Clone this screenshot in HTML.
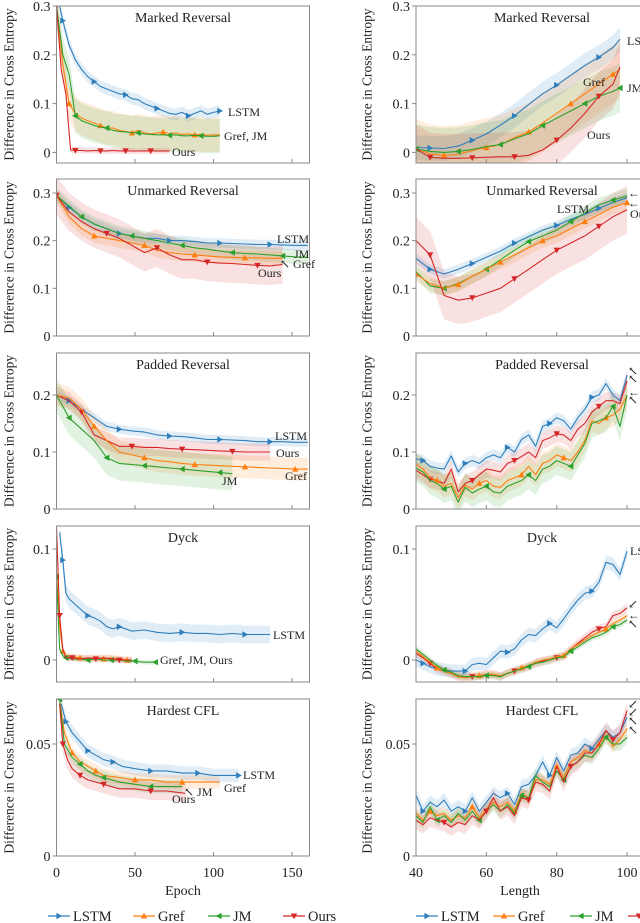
<!DOCTYPE html>
<html><head><meta charset="utf-8">
<style>
html,body{margin:0;padding:0;background:#fff;}
svg{display:block;font-family:"Liberation Serif","DejaVu Serif",serif;}
svg text{font-family:"Liberation Serif","DejaVu Serif",serif;}
</style></head>
<body>
<svg id="fig" width="640" height="923" viewBox="0 0 640 923" font-family="Liberation Serif, DejaVu Serif, serif" xmlns="http://www.w3.org/2000/svg"></svg>
<script>
// ---------- DATA ----------
const l1LstmX=[2,4,8,12,16,20,24,28,32,36,40,44,48,52,56,60,64,68,72,76,80,84,88,92,96,100,104];
const l1LstmY=[0.30,0.27,0.22,0.19,0.17,0.155,0.145,0.135,0.13,0.125,0.12,0.118,0.11,0.108,0.1,0.095,0.09,0.085,0.08,0.078,0.082,0.075,0.08,0.085,0.078,0.082,0.085];
const l1GrefX=[0,4,8,12,16,20,24,28,32,36,40,44,48,52,56,60,64,68,72,76,80,84,88,92,96,100,104];
const l1GrefY=[0.3,0.18,0.1,0.08,0.07,0.065,0.06,0.055,0.05,0.05,0.045,0.043,0.04,0.045,0.04,0.038,0.04,0.042,0.038,0.04,0.037,0.038,0.036,0.037,0.035,0.036,0.036];
const l1JmY=[0.3,0.2,0.16,0.075,0.065,0.06,0.055,0.052,0.05,0.045,0.043,0.042,0.04,0.04,0.038,0.037,0.036,0.036,0.035,0.036,0.034,0.034,0.035,0.034,0.033,0.033,0.034];
const l1OursX=[0,3,6,9,12,16,20,24,28,32,36,40,44,48,52,56,60,64,68,72];
const l1OursY=[0.3,0.17,0.12,0.005,0.004,0.004,0.003,0.004,0.003,0.003,0.004,0.003,0.003,0.003,0.003,0.003,0.003,0.003,0.003,0.003];

const l2X=[0,8,16,24,32,40,48,56,64,72,80,88,96,104,112,120,128,136,144,152,160];
const l2LstmY=[0.295,0.27,0.25,0.235,0.225,0.215,0.21,0.205,0.205,0.2,0.2,0.198,0.195,0.195,0.194,0.193,0.192,0.192,0.191,0.19,0.19];
const l2JmY=[0.295,0.272,0.25,0.235,0.225,0.215,0.21,0.205,0.2,0.195,0.19,0.185,0.182,0.178,0.175,0.173,0.172,0.17,0.168,0.166,0.165];
const l2GrefY=[0.295,0.25,0.225,0.21,0.205,0.2,0.195,0.19,0.18,0.175,0.172,0.17,0.168,0.166,0.165,0.164,0.164,0.163,0.163];
const l2OursY=[0.295,0.26,0.24,0.225,0.215,0.205,0.19,0.175,0.185,0.17,0.16,0.16,0.155,0.153,0.152,0.15,0.148,0.147,0.15];

const l3X=[0,8,16,24,32,40,48,56,64,72,80,88,96,104,112,120,128,136,144,152,160];
const l3LstmY=[0.2,0.19,0.175,0.16,0.145,0.14,0.137,0.135,0.13,0.128,0.127,0.125,0.122,0.122,0.121,0.12,0.118,0.118,0.118,0.117,0.117];
const l3OursY=[0.2,0.19,0.17,0.13,0.12,0.11,0.11,0.108,0.108,0.106,0.105,0.104,0.103,0.102,0.101,0.1,0.1,0.1];
const l3GrefY=[0.2,0.195,0.175,0.145,0.12,0.1,0.095,0.09,0.085,0.083,0.08,0.078,0.077,0.076,0.075,0.074,0.073,0.072,0.071,0.07,0.07];
const l3JmY=[0.2,0.16,0.14,0.12,0.09,0.08,0.078,0.076,0.074,0.072,0.07,0.068,0.066,0.064,0.062];

const l4LstmX=[2,4,6,8,12,16,20,24,28,32,36,40,48,56,64,72,80,88,96,104,112,120,128,136];
const l4LstmY=[0.115,0.09,0.06,0.055,0.05,0.045,0.04,0.038,0.035,0.03,0.028,0.03,0.026,0.027,0.025,0.024,0.025,0.024,0.024,0.023,0.024,0.023,0.023,0.023];
const l4ShortX=[0,2,4,6,10,15,20,25,30,35,40,45,48];
const l4GrefY=[0.08,0.03,0.008,0.004,0.003,0.002,0.001,0.002,0.001,0.002,0.001,0.0,0.0];
const l4OursY=[0.12,0.04,0.01,0.002,0.002,0.001,0.002,0.001,0.002,0.001,0.0,0.0,0.0];
const l4JmX=[0,2,4,6,10,15,20,25,30,35,40,45,50,55,60,63];
const l4JmY=[0.075,0.01,0.004,0.002,0.001,0.001,0.0,0.001,0.0,0.0,0.0,-0.001,-0.001,-0.002,-0.002,-0.002];

const l5LstmX=[3,6,10,15,20,25,30,36,42,50,60,70,80,90,100,108,116];
const l5LstmY=[0.068,0.06,0.055,0.051,0.047,0.045,0.043,0.042,0.04,0.039,0.038,0.038,0.037,0.037,0.036,0.036,0.036];
const l5GrefX=[2,5,10,15,20,25,30,40,50,60,70,80,90,104];
const l5GrefY=[0.07,0.055,0.046,0.042,0.04,0.038,0.036,0.035,0.034,0.034,0.033,0.033,0.033,0.033];
const l5JmX=[2,5,10,15,20,25,30,40,50,60,70,80];
const l5JmY=[0.07,0.05,0.044,0.041,0.038,0.036,0.035,0.033,0.032,0.031,0.031,0.031];
const l5OursX=[2,4,7,10,15,20,25,30,40,50,60,70,82];
const l5OursY=[0.068,0.05,0.043,0.039,0.036,0.034,0.033,0.032,0.03,0.03,0.029,0.029,0.028];

const r1X=[40,44,48,52,56,60,64,68,72,76,80,84,88,92,96,98];
const r1LstmY=[0.01,0.009,0.008,0.013,0.025,0.038,0.056,0.075,0.098,0.12,0.138,0.158,0.178,0.195,0.215,0.232];
const r1GrefY=[0.008,-0.003,-0.006,-0.004,0.004,0.01,0.016,0.03,0.042,0.06,0.08,0.1,0.12,0.14,0.16,0.17];
const r1JmY=[0.007,0.002,0.0,0.002,0.006,0.012,0.016,0.028,0.038,0.055,0.07,0.085,0.1,0.115,0.125,0.132];
const r1OursY=[0.007,-0.01,-0.012,-0.012,-0.011,-0.01,-0.009,-0.009,-0.006,0.005,0.025,0.05,0.08,0.115,0.14,0.175];

const r2X=[40,44,48,52,56,60,64,68,72,76,80,84,88,92,96,100];
const r2LstmY=[0.163,0.14,0.13,0.14,0.152,0.165,0.178,0.195,0.208,0.222,0.232,0.245,0.255,0.268,0.28,0.29];
const r2JmY=[0.135,0.105,0.1,0.11,0.125,0.14,0.16,0.18,0.198,0.21,0.222,0.24,0.258,0.275,0.285,0.294];
const r2GrefY=[0.13,0.11,0.1,0.108,0.125,0.14,0.155,0.17,0.185,0.2,0.21,0.225,0.24,0.255,0.27,0.28];
const r2OursY=[0.2,0.17,0.085,0.075,0.08,0.09,0.1,0.12,0.14,0.16,0.18,0.195,0.21,0.23,0.25,0.265];

const rLenX=[40,42,44,46,48,50,52,54,56,58,60,62,64,66,68,70,72,74,76,78,80,82,84,86,88,90,92,94,96,98,100];
const r3LstmY=[0.088,0.085,0.075,0.072,0.07,0.093,0.065,0.08,0.085,0.08,0.09,0.095,0.09,0.108,0.1,0.122,0.13,0.11,0.145,0.15,0.16,0.155,0.14,0.16,0.175,0.196,0.2,0.22,0.2,0.19,0.235];
const r3OursY=[0.068,0.06,0.052,0.05,0.045,0.07,0.03,0.045,0.05,0.06,0.07,0.068,0.065,0.08,0.085,0.092,0.1,0.09,0.12,0.125,0.132,0.13,0.12,0.14,0.15,0.17,0.18,0.19,0.19,0.185,0.225];
const r3GrefY=[0.078,0.07,0.055,0.05,0.04,0.045,0.02,0.042,0.035,0.045,0.05,0.04,0.038,0.05,0.055,0.06,0.075,0.06,0.08,0.085,0.095,0.09,0.085,0.1,0.12,0.155,0.15,0.16,0.165,0.175,0.2];
const r3JmY=[0.072,0.065,0.05,0.045,0.035,0.04,0.012,0.038,0.028,0.035,0.04,0.03,0.028,0.04,0.045,0.05,0.06,0.05,0.07,0.075,0.085,0.08,0.075,0.095,0.115,0.15,0.155,0.16,0.18,0.145,0.2];

const r4LstmY=[0,-0.003,-0.006,-0.008,-0.009,-0.01,-0.01,-0.01,-0.004,-0.003,-0.004,0.002,0.008,0.007,0.01,0.018,0.023,0.022,0.028,0.033,0.029,0.037,0.046,0.054,0.06,0.062,0.07,0.088,0.086,0.077,0.098];
const r4OursY=[0.006,0.002,-0.003,-0.008,-0.01,-0.012,-0.015,-0.015,-0.015,-0.014,-0.013,-0.013,-0.015,-0.012,-0.01,-0.008,-0.006,-0.003,-0.001,0.0,0.002,0.004,0.01,0.015,0.02,0.025,0.028,0.03,0.04,0.042,0.047];
const r4GrefY=[0.008,0.003,-0.002,-0.007,-0.01,-0.012,-0.015,-0.016,-0.015,-0.014,-0.013,-0.013,-0.014,-0.012,-0.01,-0.007,-0.005,-0.002,0.0,0.001,0.003,0.004,0.01,0.014,0.018,0.022,0.025,0.028,0.033,0.036,0.04];
const r4JmY=[0.01,0.005,0.0,-0.005,-0.009,-0.011,-0.014,-0.015,-0.015,-0.015,-0.014,-0.014,-0.015,-0.012,-0.01,-0.008,-0.006,-0.003,-0.002,0.0,0.002,0.003,0.008,0.012,0.016,0.02,0.022,0.025,0.03,0.032,0.036];

const r5LstmY=[0.027,0.02,0.024,0.022,0.025,0.02,0.022,0.02,0.026,0.02,0.024,0.028,0.026,0.028,0.023,0.031,0.032,0.036,0.042,0.036,0.044,0.038,0.045,0.046,0.05,0.048,0.052,0.056,0.053,0.055,0.062];
const r5GrefY=[0.019,0.016,0.02,0.018,0.019,0.016,0.018,0.017,0.022,0.017,0.021,0.024,0.022,0.024,0.02,0.028,0.026,0.034,0.034,0.032,0.04,0.035,0.042,0.044,0.047,0.046,0.05,0.054,0.049,0.052,0.057];
const r5JmY=[0.018,0.015,0.022,0.016,0.018,0.015,0.019,0.016,0.02,0.016,0.02,0.023,0.02,0.023,0.019,0.027,0.026,0.036,0.033,0.031,0.038,0.034,0.04,0.042,0.045,0.044,0.048,0.053,0.05,0.05,0.053];
const r5OursY=[0.016,0.014,0.017,0.016,0.015,0.013,0.015,0.014,0.018,0.016,0.02,0.026,0.02,0.022,0.018,0.026,0.025,0.033,0.032,0.029,0.04,0.033,0.04,0.042,0.046,0.046,0.05,0.056,0.052,0.055,0.065];

const yTicksRow=[[0,0.1,0.2,0.3],[0,0.1,0.2,0.3],[0,0.1,0.2],[0,0.1],[0,0.05]];
const yTickLabelsRow=[["0","0.1","0.2","0.3"],["0","0.1","0.2","0.3"],["0","0.1","0.2"],["0","0.1"],["0","0.05"]];
const xTicksLeft=[0,50,100,150];
const xTicksRight=[40,60,80,100];
const titles=["Marked Reversal","Unmarked Reversal","Padded Reversal","Dyck","Hardest CFL"];
const seriesNames=["LSTM","Gref","JM","Ours"];

// ---------- LAYOUT ----------
const FONT='Liberation Serif, DejaVu Serif, serif';
const COLORS={LSTM:"#2e7ebc",Gref:"#ff7f0e",JM:"#2ca02c",Ours:"#d62728"};
const rows=[{top:6,bottom:163,ymin:-0.0217,ymax:0.3},{top:179,bottom:336,ymin:0,ymax:0.3293},{top:353,bottom:509,ymin:0,ymax:0.2737},{top:526,bottom:682,ymin:-0.0198,ymax:0.1207},{top:699,bottom:856,ymin:0,ymax:0.0701}];
const cols=[{left:56.5,right:309.5,xmin:0,xmax:161.1,ylab:9},{left:416,right:645,xmin:40,xmax:105.1,ylab:367}];

const panels=[
 {r:0,c:0,series:[["LSTM",l1LstmX,l1LstmY,0.012],["Gref",l1GrefX,l1GrefY,0.035],["JM",l1GrefX,l1JmY,0.035],["Ours",l1OursX,l1OursY,0.006]],
  labels:[["LSTM",228,116],["Gref, JM",224,140],["Ours",172,156]]},
 {r:0,c:1,series:[["LSTM",r1X,r1LstmY,0.025],["Gref",r1X,r1GrefY,0.06],["JM",r1X,r1JmY,0.05],["Ours",r1X,r1OursY,0.05]],
  labels:[["LSTM",627,45],["Gref",583,86],["JM",627,92],["Ours",587,139]]},
 {r:1,c:0,series:[["LSTM",l2X,l2LstmY,0.01],["JM",l2X,l2JmY,0.015],["Gref",l2X,l2GrefY,0.015],["Ours",l2X,l2OursY,0.04]],
  labels:[["LSTM",277,243],["JM",294,258],["↖ Gref",280,268],["Ours",258,277]]},
 {r:1,c:1,series:[["LSTM",r2X,r2LstmY,0.01],["JM",r2X,r2JmY,0.015],["Gref",r2X,r2GrefY,0.015],["Ours",r2X,r2OursY,0.05]],
  labels:[["LSTM",557,213],["← JM",628,197],["← Gref",628,207],["Ours",630,218]]},
 {r:2,c:0,series:[["LSTM",l3X,l3LstmY,0.008],["Ours",l3X,l3OursY,0.015],["Gref",l3X,l3GrefY,0.02],["JM",l3X,l3JmY,0.03]],
  labels:[["LSTM",275,440],["Ours",276,457],["Gref",285,480],["JM",222,485]]},
 {r:2,c:1,series:[["LSTM",rLenX,r3LstmY,0.01],["Ours",rLenX,r3OursY,0.015],["Gref",rLenX,r3GrefY,0.02],["JM",rLenX,r3JmY,0.025]],
  labels:[["↖ LSTM",628,375],["↖ Ours",628,383],["← JM",628,396],["↖ Gref",628,404]]},
 {r:3,c:0,series:[["LSTM",l4LstmX,l4LstmY,0.008],["Gref",l4ShortX,l4GrefY,0.003],["JM",l4JmX,l4JmY,0.002],["Ours",l4ShortX,l4OursY,0.003]],
  labels:[["LSTM",273,639],["Gref, JM, Ours",160,664]]},
 {r:3,c:1,series:[["LSTM",rLenX,r4LstmY,0.006],["Ours",rLenX,r4OursY,0.004],["Gref",rLenX,r4GrefY,0.003],["JM",rLenX,r4JmY,0.003]],
  labels:[["LSTM",630,555],["↙ Ours",628,608],["← Gref",628,619],["↖ JM",628,628]]},
 {r:4,c:0,series:[["LSTM",l5LstmX,l5LstmY,0.003],["Gref",l5GrefX,l5GrefY,0.003],["JM",l5JmX,l5JmY,0.003],["Ours",l5OursX,l5OursY,0.004]],
  labels:[["LSTM",243,779],["Gref",224,792],["↖ JM",184,796],["Ours",172,803]]},
 {r:4,c:1,series:[["LSTM",rLenX,r5LstmY,0.003],["Gref",rLenX,r5GrefY,0.003],["JM",rLenX,r5JmY,0.003],["Ours",rLenX,r5OursY,0.004]],
  labels:[["↙ Ours",628,708],["↙ LSTM",628,716],["↖ Gref",628,725],["↖ JM",628,734]]}
];

// ---------- DRAW ----------
const NS="http://www.w3.org/2000/svg";
const svg=document.getElementById('fig');
function mk(tag,attrs,parent){const e=document.createElementNS(NS,tag);for(const k in attrs)e.setAttribute(k,attrs[k]);if(tag==='text')e.setAttribute('font-family',FONT);(parent||svg).appendChild(e);return e;}
function markerPts(name,x,y,s){
  if(name==="LSTM")return `${x-s*0.8},${y-s} ${x+s},${y} ${x-s*0.8},${y+s}`;
  if(name==="JM")return `${x+s*0.8},${y-s} ${x-s},${y} ${x+s*0.8},${y+s}`;
  if(name==="Gref")return `${x-s},${y+s*0.8} ${x},${y-s} ${x+s},${y+s*0.8}`;
  return `${x-s},${y-s*0.8} ${x},${y+s} ${x+s},${y-s*0.8}`;
}
const defs=mk('defs',{});
panels.forEach((p,pi)=>{
  const R=rows[p.r],C=cols[p.c];
  const sx=v=>C.left+(v-C.xmin)/(C.xmax-C.xmin)*(C.right-C.left);
  const sy=v=>R.bottom-(v-R.ymin)/(R.ymax-R.ymin)*(R.bottom-R.top);
  const g=mk('g',{});
  
  
  const cp=mk('clipPath',{id:'cp'+pi},defs);
  mk('rect',{x:C.left,y:R.top,width:C.right-C.left,height:R.bottom-R.top},cp);
  const plot=mk('g',{'clip-path':`url(#cp${pi})`},g);
  p.series.forEach(([name,xs,ys,sp])=>{
    const n=ys.length;let up=[],lo=[];
    for(let i=0;i<n;i++){up.push(`${sx(xs[i]).toFixed(1)},${sy(ys[i]+sp).toFixed(1)}`);lo.unshift(`${sx(xs[i]).toFixed(1)},${sy(ys[i]-sp).toFixed(1)}`);}
    const b=mk('polygon',{points:up.concat(lo).join(' '),fill:COLORS[name],'fill-opacity':0.14,stroke:'none'},plot);
    
    
  });
  p.series.forEach(([name,xs,ys],si)=>{
    const n=ys.length;const pts=[];
    for(let i=0;i<n;i++)pts.push(`${sx(xs[i]).toFixed(1)},${sy(ys[i]).toFixed(1)}`);
    const l=mk('polyline',{points:pts.join(' '),fill:'none',stroke:COLORS[name],'stroke-width':1.1,'stroke-linejoin':'round'},plot);
    
    
    const step=Math.max(3,Math.round(n/5));
    for(let i=(si+1)%step;i<n;i+=step){
      const m=mk('polygon',{points:markerPts(name,sx(xs[i]),sy(ys[i]),3.2),fill:COLORS[name]},plot);
      
      
    }
  });
  const fr=mk('rect',{x:C.left,y:R.top,width:C.right-C.left,height:R.bottom-R.top,fill:'none',stroke:'#8a8a8a','stroke-width':1},g);
  
  
  yTicksRow[p.r].forEach((t,i)=>{
    const y=sy(t);
    mk('line',{x1:C.left-4,x2:C.left,y1:y,y2:y,stroke:'#8a8a8a'},g);
    const tl=mk('text',{x:C.left-6,y:y+5,'text-anchor':'end','font-size':14,fill:'#222'},g);
    tl.textContent=yTickLabelsRow[p.r][i];
    
    
  });
  (p.c===0?xTicksLeft:xTicksRight).forEach(t=>{
    const x=sx(t);
    mk('line',{x1:x,x2:x,y1:R.bottom-4,y2:R.bottom,stroke:'#8a8a8a'},g);
    if(p.r===4){
      const tl=mk('text',{x:x,y:R.bottom+21,'text-anchor':'middle','font-size':14,fill:'#222'},g);
      tl.textContent=String(t);
      
      
    }
  });
  const tt=mk('text',{x:(p.c===0?183:542),y:R.top+16,'text-anchor':'middle','font-size':14,fill:'#222'},g);
  tt.textContent=titles[p.r];
  
  
  const cy=(R.top+R.bottom)/2;
  const yt=mk('text',{x:C.ylab,y:cy,'text-anchor':'middle','font-size':13.5,fill:'#222',transform:`rotate(-90 ${C.ylab} ${cy})`,'dominant-baseline':'central'},g);
  yt.textContent="Difference in Cross Entropy";
  
  
  p.labels.forEach(([txt,x,y])=>{
    const t=mk('text',{x:x,y:y,'font-size':12,fill:'#222'},g);
    t.textContent=txt;
    
    
  });
});
[["Epoch",183],["Length",520]].forEach(([t,x])=>{
  const e=mk('text',{x:x,y:895,'text-anchor':'middle','font-size':14,fill:'#222'});
  e.textContent=t;
  
  
});
[[48,133,208,283],[416,493,570,628]].forEach((xs,li)=>{
  const lg=mk('g',{});
  
  
  seriesNames.forEach((n,i)=>{
    const x=xs[i],y=916;
    const ent=mk('g',{},lg);
    
    
    mk('line',{x1:x,x2:x+22,y1:y,y2:y,stroke:COLORS[n],'stroke-width':1.2},ent);
    mk('polygon',{points:markerPts(n,x+11,y,3.2),fill:COLORS[n]},ent);
    const t=mk('text',{x:x+25,y:y+5,'font-size':14.5,fill:'#222'},ent);
    t.textContent=n;
  });
});
</script>
</body></html>
